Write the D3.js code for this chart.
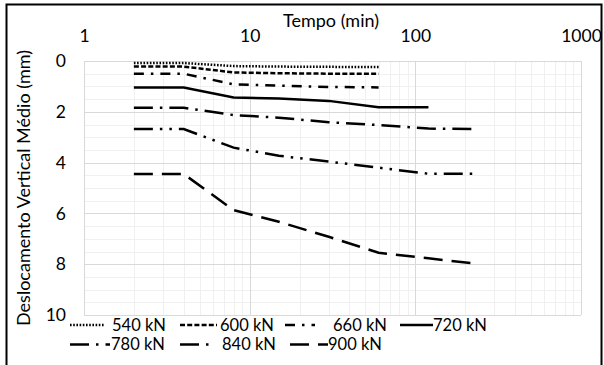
<!DOCTYPE html>
<html><head><meta charset="utf-8">
<script src="https://cdn.jsdelivr.net/npm/d3@7"></script>
<style>
html,body{margin:0;padding:0;background:#fff;}
svg{display:block;}
text{font-family:Lato,"Open Sans",sans-serif;fill:#000;}
</style></head>
<body><svg id="c" width="604" height="365"></svg>
<script>
// ---- data ----
const times = [2, 4, 8, 15, 30, 60, 120, 240];
const loads = ["540 kN","600 kN","660 kN","720 kN","780 kN","840 kN","900 kN"];
const s540 = [0.08, 0.08, 0.20, 0.22, 0.23, 0.24];
const s600 = [0.22, 0.22, 0.45, 0.48, 0.50, 0.50];
const s660 = [0.50, 0.50, 0.92, 0.97, 1.02, 1.04];
const s720 = [1.04, 1.04, 1.44, 1.48, 1.57, 1.82, 1.82];
const s780 = [1.84, 1.84, 2.13, 2.23, 2.41, 2.52, 2.66, 2.68];
const s840 = [2.68, 2.68, 3.41, 3.73, 3.96, 4.20, 4.44, 4.44];
const s900 = [4.45, 4.45, 5.87, 6.33, 6.92, 7.55, 7.77, 7.99];
const xTicks = [1, 10, 100, 1000];
const yTicks = [0, 2, 4, 6, 8, 10];
const xTitle = "Tempo (min)";
const yTitle = "Deslocamento Vertical Médio (mm)";

const seriesVals = [s540, s600, s660, s720, s780, s840, s900];
const dashes = ["1.6,1.6", "5,2.2", "10,7,2.5,7", null, "19,7,2.5,7", "19,7,2.5,7,2.5,7", "19,9"];

const svg = d3.select("#c");
const x = d3.scaleLog().domain([1, 1000]).range([84, 581]);
const y = d3.scaleLinear().domain([0, 10]).range([61, 315]);

// outer border
svg.append("rect").attr("x", 6.5).attr("y", 4.5).attr("width", 595).attr("height", 380)
  .attr("fill", "none").attr("stroke", "#000").attr("stroke-width", 2);

// minor grid
const minorX = [];
for (let d = 1; d < 1000; d *= 10) for (let k = 2; k <= 9; k++) minorX.push(d * k);
const g = svg.append("g");
g.selectAll("line.mx").data(minorX).join("line")
  .attr("x1", d => Math.round(x(d)) + 0.5).attr("x2", d => Math.round(x(d)) + 0.5)
  .attr("y1", y(0)).attr("y2", y(10)).attr("stroke", "#f0f0f0").attr("stroke-width", 1);
const minorY = d3.range(0.5, 10, 0.5).filter(v => v % 2 !== 0);
g.selectAll("line.my").data(minorY).join("line")
  .attr("y1", d => Math.round(y(d)) + 0.5).attr("y2", d => Math.round(y(d)) + 0.5)
  .attr("x1", x(1)).attr("x2", x(1000)).attr("stroke", "#f0f0f0").attr("stroke-width", 1);
// major grid
g.selectAll("line.Mx").data(xTicks).join("line")
  .attr("x1", d => Math.round(x(d)) + 0.5).attr("x2", d => Math.round(x(d)) + 0.5)
  .attr("y1", y(0)).attr("y2", y(10)).attr("stroke", "#d9d9d9").attr("stroke-width", 1);
g.selectAll("line.My").data(yTicks).join("line")
  .attr("y1", d => Math.round(y(d)) + 0.5).attr("y2", d => Math.round(y(d)) + 0.5)
  .attr("x1", x(1)).attr("x2", x(1000)).attr("stroke", "#d9d9d9").attr("stroke-width", 1);

// axes (labels only)
const xAxis = d3.axisTop(x).tickValues(xTicks).tickFormat(d3.format("d")).tickSize(0).tickPadding(0);
const xa = svg.append("g").attr("transform", "translate(0,42)").call(xAxis);
xa.select(".domain").remove();
xa.selectAll("text").attr("font-size", 17.5).attr("font-family", "Lato").attr("fill", "#000");

const yAxis = d3.axisLeft(y).tickValues(yTicks).tickSize(0).tickPadding(0);
const ya = svg.append("g").attr("transform", "translate(66,0)").call(yAxis);
ya.select(".domain").remove();
ya.selectAll("text").attr("font-size", 17.5).attr("font-family", "Lato").attr("fill", "#000");

// titles
svg.append("text").attr("x", 331).attr("y", 27).attr("text-anchor", "middle")
  .attr("font-size", 18).text(xTitle);
svg.append("text").attr("transform", "translate(30,188) rotate(-90)").attr("text-anchor", "middle")
  .attr("font-size", 18).text(yTitle);

// lines
const line = d3.line().x((d, i) => x(times[i])).y(d => y(d));
seriesVals.forEach((vals, i) => {
  svg.append("path").datum(vals).attr("d", line)
    .attr("fill", "none").attr("stroke", "#000").attr("stroke-width", 2.5)
    .attr("stroke-dasharray", dashes[i]);
});

// legend layout: [sampleX1, sampleX2, textX, rowY]
const legLayout = [[70,105,112,325],[180,217,220,325],[285,315,333,325],[400,433,433,325],
                   [70,110,111,344.5],[180,210,222,344.5],[290,328,328,344.5]];
loads.forEach((name, i) => {
  const [a, b, tx, ly] = legLayout[i];
  svg.append("line").attr("x1", a).attr("x2", b).attr("y1", ly).attr("y2", ly)
    .attr("stroke", "#000").attr("stroke-width", 2.5).attr("stroke-dasharray", dashes[i]);
  svg.append("text").attr("x", tx).attr("y", ly + 5.5)
    .attr("font-size", 16.5).text(name);
});
</script></body></html>
